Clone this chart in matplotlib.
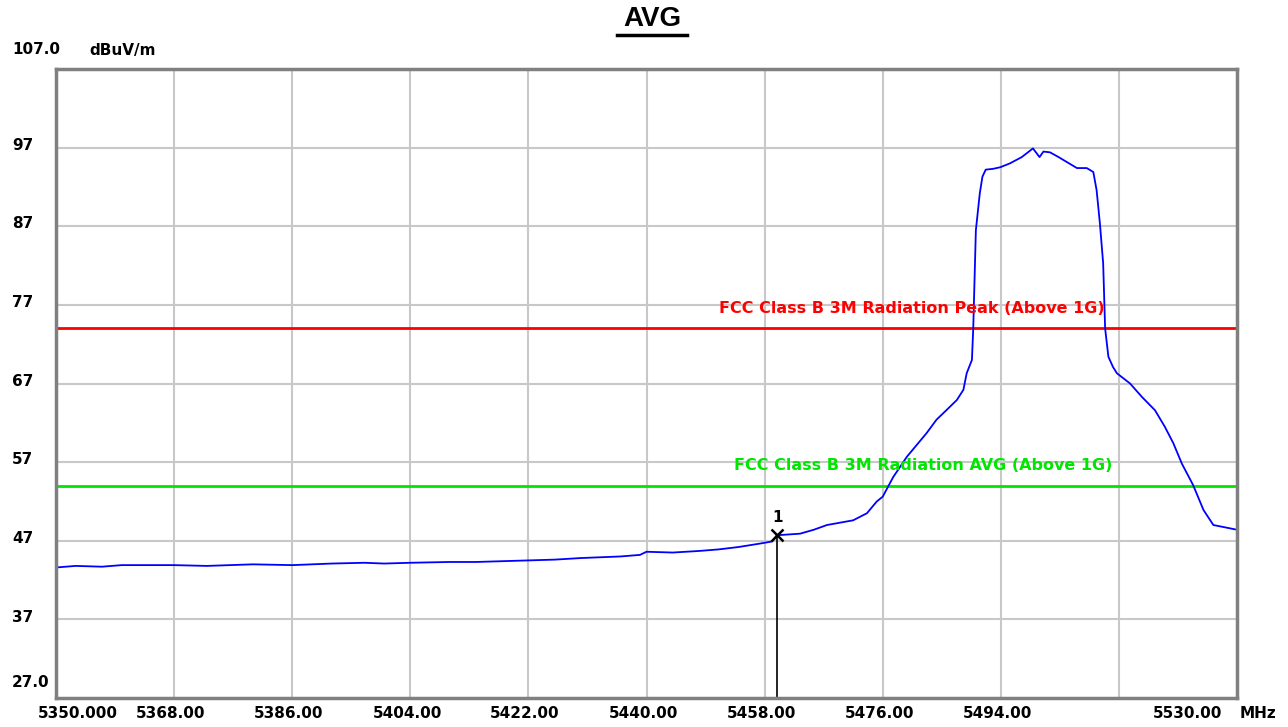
import matplotlib.pyplot as plt
from matplotlib.lines import Line2D
from matplotlib.transforms import blended_transform_factory

# trace (MHz, dBuV/m)
freq = [5350.0, 5353.0, 5357.0, 5360.0, 5368.0, 5373.0, 5380.0, 5386.0, 5392.0,
        5397.0, 5400.0, 5404.0, 5410.0, 5414.0, 5422.0, 5426.0, 5430.0, 5436.0,
        5439.0, 5440.0, 5444.0, 5448.0, 5451.0, 5454.0, 5457.0, 5459.1, 5459.9,
        5463.4, 5465.5, 5467.5, 5469.5, 5471.5, 5473.6, 5475.1, 5476.0, 5477.6,
        5479.7, 5481.2, 5482.7, 5484.2, 5485.7, 5487.3, 5488.3, 5488.8, 5489.6,
        5489.8, 5490.2, 5490.8, 5491.2, 5491.7, 5492.8, 5493.9, 5495.4, 5497.2,
        5498.9, 5499.9, 5500.5, 5501.5, 5502.8, 5504.0, 5505.6, 5507.1, 5508.1,
        5508.6, 5509.1, 5509.6, 5509.9, 5510.4, 5511.1, 5511.7, 5513.7, 5515.5,
        5517.5, 5519.0, 5520.3, 5521.6, 5523.3, 5524.9, 5526.4, 5528.2, 5530.0]
level = [43.6, 43.8, 43.7, 43.9, 43.9, 43.8, 44.0, 43.9, 44.1,
         44.2, 44.1, 44.2, 44.3, 44.3, 44.5, 44.6, 44.8, 45.0,
         45.2, 45.6, 45.5, 45.7, 45.9, 46.2, 46.6, 46.9, 47.7,
         47.9, 48.4, 49.0, 49.3, 49.6, 50.5, 52.0, 52.6, 55.1,
         57.7, 59.2, 60.7, 62.4, 63.6, 64.9, 66.2, 68.3, 70.0,
         74.0, 86.5, 91.2, 93.3, 94.2, 94.3, 94.5, 95.0, 95.8,
         96.9, 95.8, 96.5, 96.4, 95.8, 95.2, 94.4, 94.4, 93.9,
         91.6, 87.4, 82.3, 74.0, 70.4, 69.1, 68.3, 67.0, 65.3,
         63.6, 61.5, 59.4, 56.8, 54.1, 50.9, 49.0, 48.7, 48.4]

peak_limit = 74.0
avg_limit = 54.0
peak_label = 'FCC Class B 3M Radiation Peak (Above 1G)'
avg_label = 'FCC Class B 3M Radiation AVG (Above 1G)'

marker_freq = 5459.9
marker_level = 47.7

x_min, x_max = 5350.0, 5530.0
y_min, y_max = 27.0, 107.0
x_grid = [5368, 5386, 5404, 5422, 5440, 5458, 5476, 5494, 5512]
x_labels = ['5368.00', '5386.00', '5404.00', '5422.00', '5440.00', '5458.00',
            '5476.00', '5494.00', '']
y_grid = [97, 87, 77, 67, 57, 47, 37]

fig = plt.figure(figsize=(12.88, 7.27), dpi=100)
ax = fig.add_axes([56 / 1288, 1 - 698 / 727, (1237 - 56) / 1288, (698 - 69) / 727])
ax.set_xlim(x_min, x_max)
ax.set_ylim(y_min, y_max)

ax.set_xticks(x_grid)
ax.set_yticks(y_grid)
ax.tick_params(length=0, labelbottom=False, labelleft=False)
ax.grid(True, color='#c8c8c8', linewidth=1.5)
ax.set_axisbelow(True)
for sp in ax.spines.values():
    sp.set_color('#808080')
    sp.set_linewidth(2.5)

lbl = dict(fontsize=11, fontweight='bold', family='DejaVu Sans', color='black')

# y labels on the left
ty = blended_transform_factory(fig.transFigure, ax.transData)
for v in y_grid:
    ax.text(12 / 1288, v + 0.3, str(v), transform=ty, ha='left', va='center', **lbl)
fig.text(12 / 1288, 1 - 50 / 727, '107.0', ha='left', va='center', **lbl)
fig.text(89 / 1288, 1 - 50 / 727, 'dBuV/m', ha='left', va='center', **lbl)
ax.text(12 / 1288, 29.0, '27.0', transform=ty, ha='left', va='center', **lbl)

# x labels under the axis
tx = blended_transform_factory(ax.transData, fig.transFigure)
xy = 1 - 713 / 727
for f, s in zip(x_grid, x_labels):
    ax.text(f - 0.5, xy, s, transform=tx, ha='center', va='center', **lbl)
fig.text(38 / 1288, xy, '5350.000', ha='left', va='center', **lbl)
fig.text(1222 / 1288, xy, '5530.00', ha='right', va='center', **lbl)
fig.text(1240 / 1288, xy, 'MHz', ha='left', va='center', **lbl)

# limit lines
ax.axhline(peak_limit, color='#ff0000', linewidth=2)
ax.axhline(avg_limit, color='#00e600', linewidth=2)
ax.text(5480.5, peak_limit + 2.5, peak_label, ha='center', va='center',
        color='#ff0000', fontsize=11.5, fontweight='bold')
ax.text(5482.1, avg_limit + 2.6, avg_label, ha='center', va='center',
        color='#00e600', fontsize=11.5, fontweight='bold')

# trace
ax.plot(freq, level, color='#0000ff', linewidth=1.3)

# marker 1
ax.plot([marker_freq, marker_freq], [y_min, marker_level], color='black', linewidth=1.2)
ax.plot(marker_freq, marker_level, marker='x', color='black', markersize=8, mew=1.8)
ax.text(marker_freq, marker_level + 1.3, '1', ha='center', va='bottom', **lbl)

# underlined title
fig.text(652 / 1288, 1 - 19 / 727, 'AVG', ha='center', va='center',
         fontsize=20, fontweight='bold', family='Liberation Sans')
fig.add_artist(Line2D([617 / 1288, 687 / 1288], [1 - 35 / 727, 1 - 35 / 727],
                      color='black', linewidth=2.5, transform=fig.transFigure))

fig.savefig('out.png', dpi=100)
